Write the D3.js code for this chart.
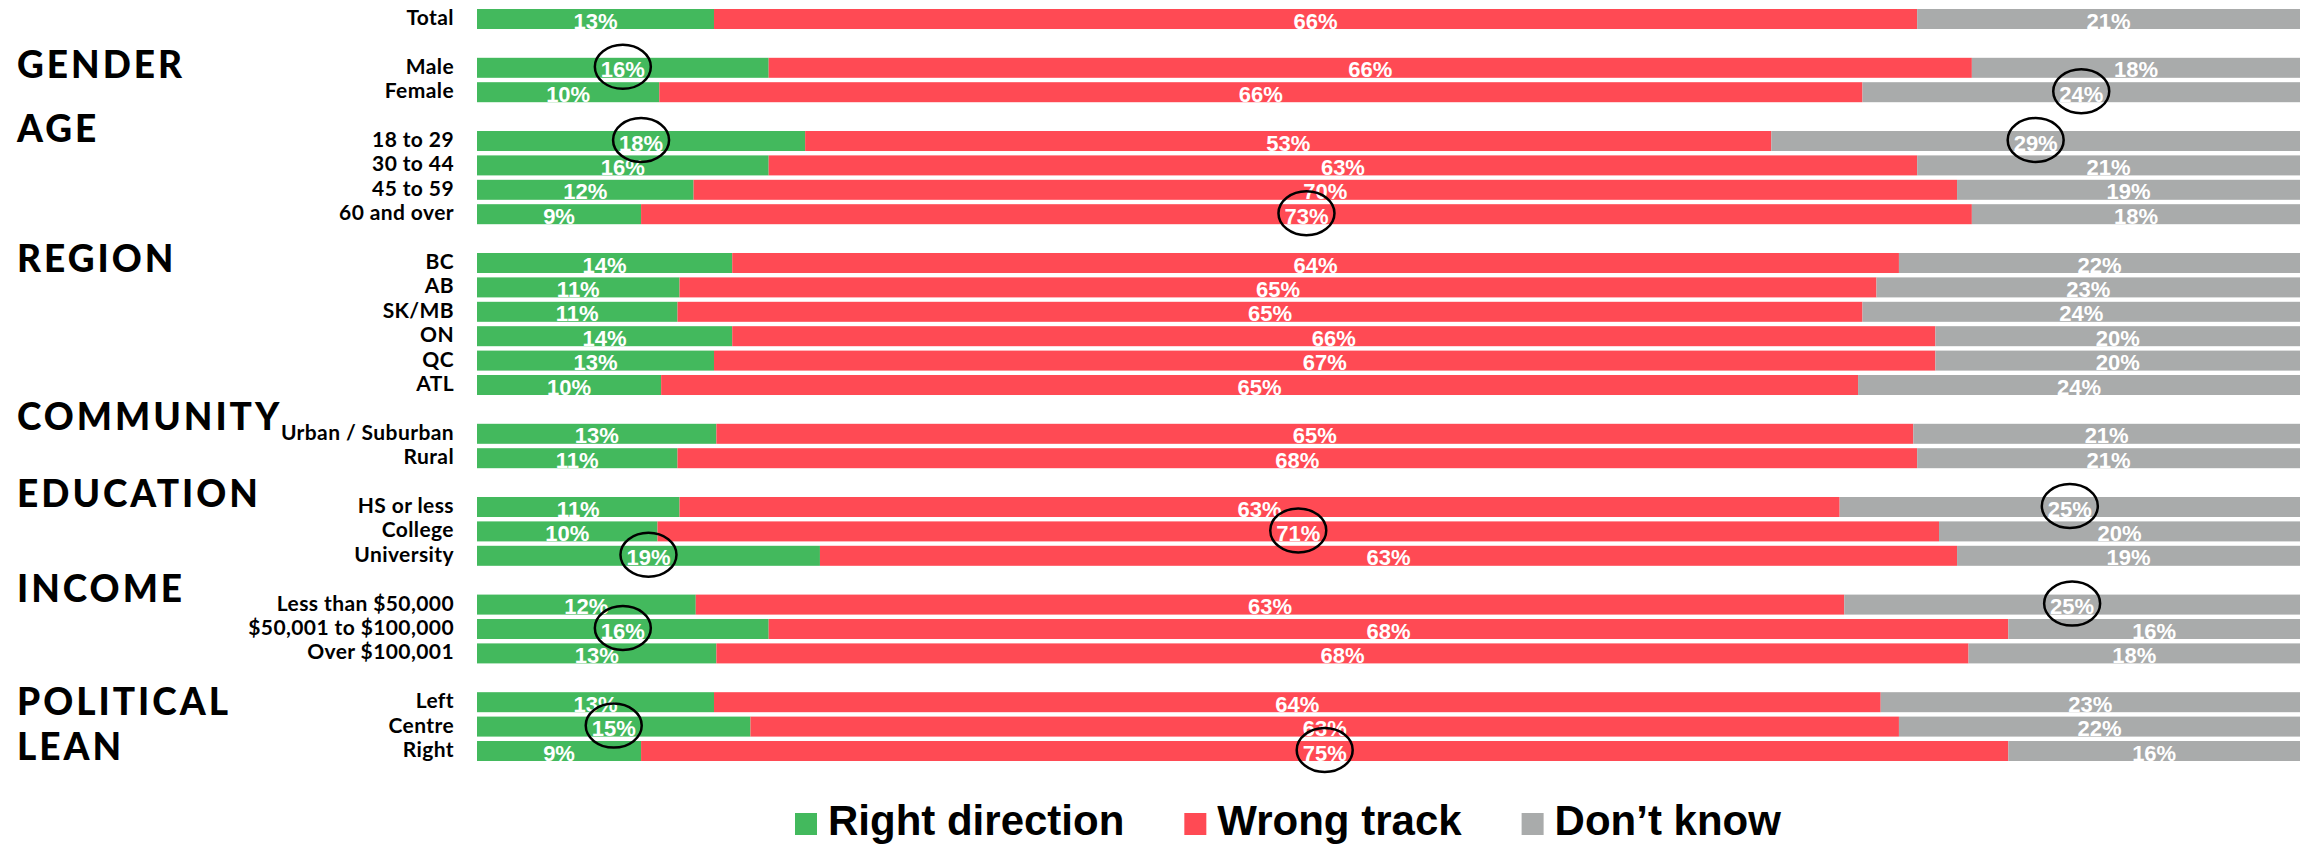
<!DOCTYPE html>
<html>
<head>
<meta charset="utf-8">
<script src="https://cdn.jsdelivr.net/npm/d3@7"></script>
<style>
  html, body { margin: 0; padding: 0; background: #fff; }
</style>
</head>
<body>
<div id="chart"></div>
<script>
// Data
const series = ["Right direction", "Wrong track", "Don\u2019t know"];
const colors = ["#43b95d", "#ff4a54", "#a9abab"];

const groupNames = ["", "GENDER", "AGE", "REGION", "COMMUNITY", "EDUCATION", "INCOME", "POLITICAL LEAN"];
const groupRows = [
  ["Total"],
  ["Male", "Female"],
  ["18 to 29", "30 to 44", "45 to 59", "60 and over"],
  ["BC", "AB", "SK/MB", "ON", "QC", "ATL"],
  ["Urban / Suburban", "Rural"],
  ["HS or less", "College", "University"],
  ["Less than $50,000", "$50,001 to $100,000", "Over $100,001"],
  ["Left", "Centre", "Right"]
];

const rightDirection = [13, 16, 10, 18, 16, 12, 9, 14, 11, 11, 14, 13, 10, 13, 11, 11, 10, 19, 12, 16, 13, 13, 15, 9];
const wrongTrack     = [66, 66, 66, 53, 63, 70, 73, 64, 65, 65, 66, 67, 65, 65, 68, 63, 71, 63, 63, 68, 68, 64, 63, 75];
const dontKnow       = [21, 18, 24, 29, 21, 19, 18, 22, 23, 24, 20, 20, 24, 21, 21, 25, 20, 19, 25, 16, 18, 23, 22, 16];

// circled values: [row, series index]
const highlights = [
  ["Male", 0], ["Female", 2], ["18 to 29", 0], ["18 to 29", 2], ["60 and over", 1],
  ["HS or less", 2], ["College", 1], ["University", 0],
  ["Less than $50,000", 2], ["$50,001 to $100,000", 0], ["Centre", 0], ["Right", 1]
];

// heading baseline offset from the top of the group's first bar
const headingOffsets = [0, 20, 11, 19, 6, 10, 7, 23];

// Layout
const W = 2313, H = 845;
const barLeft = 477, barRight = 2300;
const plotTop = 9, plotBottom = 761;

const svg = d3.select("#chart")
  .append("svg")
    .attr("width", W)
    .attr("height", H);

// row domain with blank spacer rows between groups
const rowKeys = [];
groupRows.forEach((g, i) => {
  if (i > 0) rowKeys.push("__gap" + i);
  g.forEach(r => rowKeys.push(r));
});
const rows = groupRows.flat();

const y = d3.scaleBand()
  .domain(rowKeys)
  .range([plotTop, plotBottom])
  .paddingInner(0.18)
  .paddingOuter(0);

const x = d3.scaleLinear()
  .domain([0, 1])
  .range([barLeft, barRight]);

const values = [rightDirection, wrongTrack, dontKnow];

// stacked segments, normalised per row
let segs = [];
rows.forEach((r, i) => {
  const vals = values.map(v => v[i]);
  const total = d3.sum(vals);
  let acc = 0;
  vals.forEach((v, k) => {
    segs.push({row: r, k: k, value: v, x0: acc / total, x1: (acc + v) / total});
    acc += v;
  });
});

// Bars
svg.append("g").selectAll("rect")
  .data(segs)
  .enter().append("rect")
    .attr("x", d => x(d.x0))
    .attr("y", d => y(d.row))
    .attr("width", d => x(d.x1) - x(d.x0))
    .attr("height", y.bandwidth())
    .style("fill", d => colors[d.k]);

// Value labels
svg.append("g").selectAll("text")
  .data(segs)
  .enter().append("text")
    .attr("x", d => (x(d.x0) + x(d.x1)) / 2)
    .attr("y", d => y(d.row) + y.bandwidth() - 0.5)
    .attr("text-anchor", "middle")
    .style("font-family", "'Liberation Sans', Arial, sans-serif")
    .style("font-weight", "bold")
    .style("font-size", "22px")
    .style("fill", "#fff")
    .text(d => d.value + "%");

// Row labels
svg.append("g").selectAll("text")
  .data(rows)
  .enter().append("text")
    .attr("x", 454)
    .attr("y", d => y(d) + y.bandwidth() / 2 + 6)
    .attr("text-anchor", "end")
    .style("font-family", "Lato, 'Open Sans', sans-serif")
    .style("font-weight", "bold")
    .style("font-size", "21px")
    .style("letter-spacing", "0.4px")
    .style("fill", "#000")
    .text(d => d);

// Group headings
groupNames.forEach((name, i) => {
  if (!name) return;
  const t = svg.append("text")
    .attr("x", 17)
    .attr("y", y(groupRows[i][0]) + headingOffsets[i])
    .style("font-family", "Lato, 'Open Sans', sans-serif")
    .style("font-weight", "900")
    .style("font-size", "37px")
    .style("letter-spacing", "3px")
    .style("fill", "#000");
  const words = name.split(" ");
  if (words.length > 1) {
    words.forEach((w, j) => {
      t.append("tspan").attr("x", 17).attr("dy", j === 0 ? 0 : 45).text(w);
    });
  } else {
    t.text(name);
  }
});

// Highlight circles
svg.append("g").selectAll("ellipse")
  .data(highlights.map(([r, k]) => segs.find(s => s.row === r && s.k === k)))
  .enter().append("ellipse")
    .attr("cx", d => (x(d.x0) + x(d.x1)) / 2)
    .attr("cy", d => y(d.row) + y.bandwidth() / 2 - 1)
    .attr("rx", 28)
    .attr("ry", 22)
    .style("fill", "none")
    .style("stroke", "#000")
    .style("stroke-width", 2.5);

// Legend
const legend = svg.append("g")
  .attr("transform", "translate(795, 835)");
let lx = 0;
series.forEach((s, i) => {
  const g = legend.append("g").attr("transform", `translate(${lx},0)`);
  g.append("rect")
    .attr("x", 0).attr("y", -22)
    .attr("width", 22).attr("height", 22)
    .style("fill", colors[i]);
  const txt = g.append("text")
    .attr("x", 33).attr("y", 0)
    .style("font-family", "'Liberation Sans', Arial, sans-serif")
    .style("font-weight", "bold")
    .style("font-size", "42px")
    .style("fill", "#000")
    .text(s);
  lx += 33 + txt.node().getComputedTextLength() + 60;
});
</script>
</body>
</html>
